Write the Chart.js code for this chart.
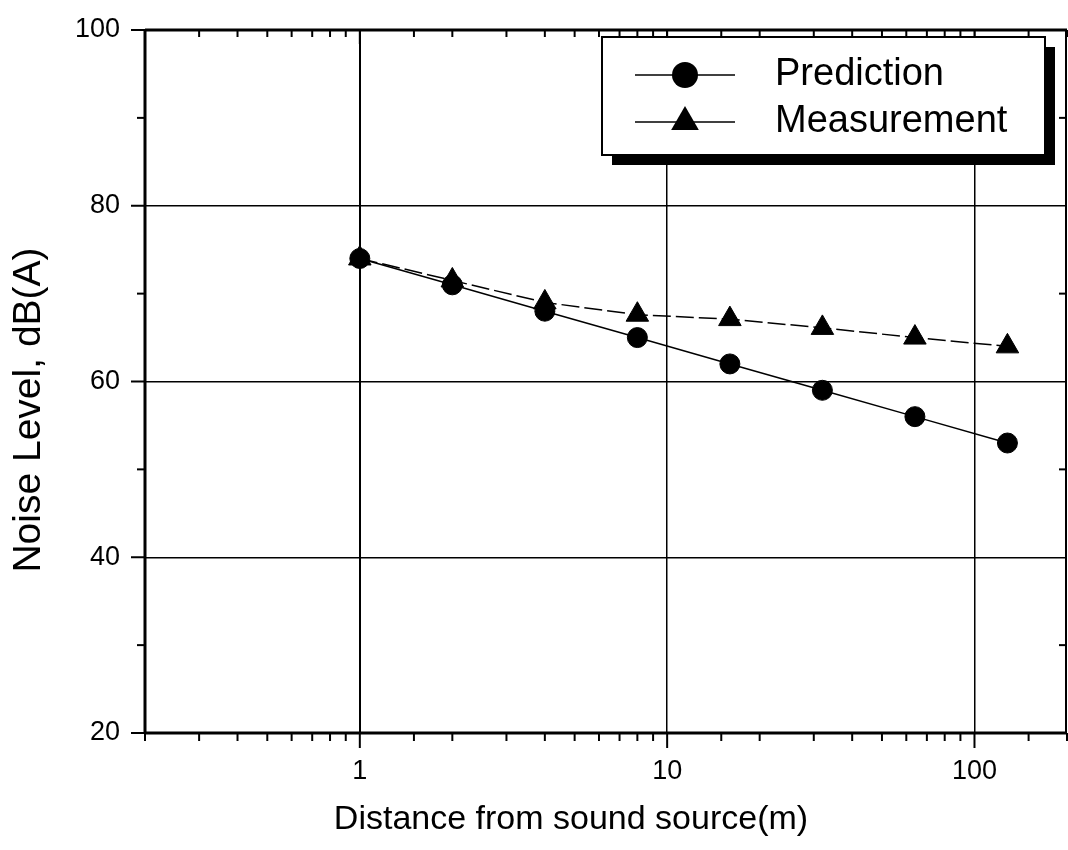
<!DOCTYPE html>
<html>
<head>
<meta charset="utf-8">
<title>Noise level vs distance</title>
<script src="https://cdn.jsdelivr.net/npm/chart.js@4.4.0/dist/chart.umd.min.js"></script>
<style>
  body { margin: 0; background: #fff; }
  canvas { display: block; }
</style>
</head>
<body>
<canvas id="noise-chart" width="1068" height="850"></canvas>
<script>
// distance from the source (m) and noise level, dB(A)
const distances = [1, 2, 4, 8, 16, 32, 64, 128];
const prediction = [74, 71, 68, 65, 62, 59, 56, 53];
const measurement = [74, 71.5, 69, 67.6, 67.1, 66.1, 65, 64];

const xTickLabels = [1, 10, 100];
const yTickLabels = [20, 40, 60, 80, 100];

const xTitle = 'Distance from sound source(m)';
const yTitle = 'Noise Level, dB(A)';

const FONT = 'Arial, "Liberation Sans", sans-serif';

function isMajorX(v) {
    return xTickLabels.some(t => Math.abs(t - v) < 1e-9);
}

function isMajorY(v) {
    return yTickLabels.includes(v);
}

function toPoints(values) {
    return distances.map((d, i) => ({ x: d, y: values[i] }));
}

function strokeLine(ctx, x1, y1, x2, y2) {
    ctx.beginPath();
    ctx.moveTo(x1, y1);
    ctx.lineTo(x2, y2);
    ctx.stroke();
}

function drawMarker(ctx, style, x, y, r) {
    ctx.beginPath();
    if (style === 'triangle') {
        ctx.moveTo(x, y - r);
        ctx.lineTo(x + r * Math.sin(Math.PI * 2 / 3), y + r / 2);
        ctx.lineTo(x - r * Math.sin(Math.PI * 2 / 3), y + r / 2);
        ctx.closePath();
    } else {
        ctx.arc(x, y, r, 0, Math.PI * 2);
    }
    ctx.fill();
}

// keep the plot box fixed: no extra room for half tick labels
function fixSize(prop, value) {
    return s => {
        s[prop] = value;
        s.paddingTop = 0;
        s.paddingBottom = 0;
        s.paddingLeft = 0;
        s.paddingRight = 0;
    };
}

// box around the plot, with minor / major ticks on all four sides
const framePlugin = {
    id: 'frame',
    afterDatasetsDraw(chart) {
        const { ctx, chartArea: a, scales: { x, y } } = chart;
        ctx.save();
        ctx.strokeStyle = '#000';
        ctx.lineWidth = 2;

        x.ticks.forEach(t => {
            const px = x.getPixelForValue(t.value);
            const major = isMajorX(t.value);
            strokeLine(ctx, px, a.bottom, px, a.bottom + (major ? 15 : 8));
            strokeLine(ctx, px, a.top, px, a.top + (major ? 14 : 7));
        });

        y.ticks.forEach(t => {
            const py = y.getPixelForValue(t.value);
            const major = isMajorY(t.value);
            strokeLine(ctx, a.left - (major ? 14 : 8), py, a.left, py);
            if (!major) strokeLine(ctx, a.right - 8, py, a.right, py);
        });

        ctx.lineWidth = 3;
        strokeLine(ctx, a.left, a.top, a.left, a.bottom + 1);
        strokeLine(ctx, a.left, a.bottom, a.right, a.bottom);
        strokeLine(ctx, a.left, a.top, a.right, a.top);
        ctx.lineWidth = 2;
        strokeLine(ctx, a.right - 1, a.top, a.right - 1, a.bottom);
        ctx.restore();
    }
};

// axis titles, placed where the original figure has them
const titlePlugin = {
    id: 'axisTitles',
    afterDraw(chart) {
        const ctx = chart.ctx;
        ctx.save();
        ctx.fillStyle = '#000';
        ctx.textAlign = 'center';
        ctx.textBaseline = 'middle';

        ctx.font = '34px ' + FONT;
        ctx.fillText(xTitle, 571, 820);

        ctx.translate(29, 410);
        ctx.rotate(-Math.PI / 2);
        ctx.font = '39px ' + FONT;
        ctx.fillText(yTitle, 0, 0);
        ctx.restore();
    }
};

// boxed legend with a drop shadow
const legendPlugin = {
    id: 'shadowLegend',
    afterDraw(chart) {
        const ctx = chart.ctx;
        const box = { left: 602, top: 37, right: 1045, bottom: 155 };
        const w = box.right - box.left;
        const h = box.bottom - box.top;
        ctx.save();
        ctx.fillStyle = '#000';
        ctx.fillRect(box.left + 10, box.top + 10, w, h);
        ctx.fillStyle = '#fff';
        ctx.fillRect(box.left, box.top, w, h);
        ctx.strokeStyle = '#000';
        ctx.lineWidth = 2;
        ctx.strokeRect(box.left, box.top, w, h);

        const rows = [75, 122];
        const baselines = [85, 132];
        const radii = [13, 16];
        chart.data.datasets.forEach((ds, i) => {
            ctx.strokeStyle = '#000';
            ctx.lineWidth = 1.5;
            strokeLine(ctx, 635, rows[i], 735, rows[i]);
            ctx.fillStyle = '#000';
            drawMarker(ctx, ds.pointStyle, 685, rows[i], radii[i]);
            ctx.font = '38px ' + FONT;
            ctx.textAlign = 'left';
            ctx.textBaseline = 'alphabetic';
            ctx.fillText(ds.label, 775, baselines[i]);
        });
        ctx.restore();
    }
};

const ctx = document.getElementById('noise-chart').getContext('2d');

const noiseChart = new Chart(ctx, {
    type: 'line',
    data: {
        datasets: [
            {
                label: 'Prediction',
                data: toPoints(prediction),
                borderColor: '#000',
                backgroundColor: '#000',
                borderWidth: 1.5,
                pointStyle: 'circle',
                pointRadius: 10,
                pointBorderWidth: 1,
                pointBackgroundColor: '#000',
                pointBorderColor: '#000',
                tension: 0
            },
            {
                label: 'Measurement',
                data: toPoints(measurement),
                borderColor: '#000',
                backgroundColor: '#000',
                borderWidth: 1.5,
                borderDash: [18, 5],
                pointStyle: 'triangle',
                pointRadius: 13,
                pointBorderWidth: 1,
                pointBackgroundColor: '#000',
                pointBorderColor: '#000',
                tension: 0
            }
        ]
    },
    options: {
        responsive: false,
        devicePixelRatio: 1,
        animation: false,
        layout: {
            autoPadding: false,
            padding: { top: 30, right: 1, left: 0, bottom: 0 }
        },
        plugins: {
            legend: { display: false },
            tooltip: { enabled: false }
        },
        scales: {
            x: {
                type: 'logarithmic',
                position: 'bottom',
                min: 0.2,
                max: 200,
                afterFit: fixSize('height', 117),
                border: { display: false },
                grid: {
                    drawTicks: false,
                    color: c => isMajorX(c.tick.value) ? '#000' : 'rgba(0,0,0,0)',
                    lineWidth: c => c.tick.value === 1 ? 2 : 1.5
                },
                ticks: {
                    autoSkip: false,
                    maxRotation: 0,
                    padding: 22,
                    color: '#000',
                    font: { family: FONT, size: 27 },
                    callback: v => isMajorX(v) ? String(Math.round(v)) : ''
                }
            },
            y: {
                min: 20,
                max: 100,
                afterFit: fixSize('width', 145),
                border: { display: false },
                grid: {
                    drawTicks: false,
                    color: c => isMajorY(c.tick.value) ? '#000' : 'rgba(0,0,0,0)',
                    lineWidth: 1.5
                },
                ticks: {
                    stepSize: 10,
                    padding: 25,
                    color: '#000',
                    font: { family: FONT, size: 27 },
                    callback: v => isMajorY(v) ? String(v) : ''
                }
            }
        }
    },
    plugins: [framePlugin, titlePlugin, legendPlugin]
});
</script>
</body>
</html>
